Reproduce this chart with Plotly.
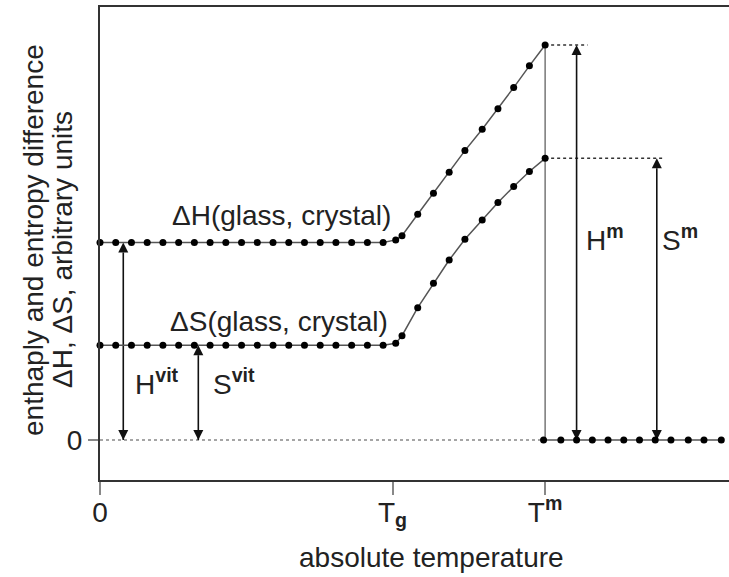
import plotly.graph_objects as go

# ---- data (arbitrary units) ----
T_G = 18.6
T_M = 28.3
H_LEVEL = 10.0
S_LEVEL = 4.8
H_TOP = 20.0
S_TOP = 14.26

glass_x = [0, 1, 2, 3, 4, 5, 6, 7, 8, 9, 10, 11, 12, 13, 14, 15, 16, 17, 18]
rise_x = [18.8, 19.2, 20.2, 21.2, 22.2, 23.2, 24.3, 25.3, 26.3, 27.3, 28.3]
dH_rise = [10.13, 10.34, 11.43, 12.49, 13.55, 14.65, 15.73, 16.77, 17.84, 18.94, 20.0]
dS_rise = [4.9, 5.28, 6.7, 7.93, 9.11, 10.16, 11.14, 12.02, 12.83, 13.59, 14.26]
liquid_x = [28.2, 29.3, 30.3, 31.3, 32.3, 33.3, 34.3, 35.3, 36.3, 37.4, 38.4, 39.5]
liquid_y = [0] * len(liquid_x)

dH_x = glass_x + rise_x
dH_y = [H_LEVEL] * len(glass_x) + dH_rise
dS_x = glass_x + rise_x
dS_y = [S_LEVEL] * len(glass_x) + dS_rise

x_tickvals = [0, T_G, T_M]
x_ticktext = ["0", "T<sub><b>g</b></sub>", "T<sup><b>m</b></sup>"]

# double-headed arrows: x position, top value, bottom value
arrow_x = [1.48, 6.25, 30.3, 35.4]
arrow_top = [H_LEVEL, S_LEVEL, H_TOP, S_TOP]
arrow_bottom = [0, 0, 0, 0]

# dotted guide ends
guide_end_x = [31.0, 35.8]
guide_y = [H_TOP, S_TOP]

FONT = "Liberation Sans, Arial, sans-serif"
TXT = "#222222"
FS = 28

fig = go.Figure()

# zero reference (dotted) for glass region
fig.add_trace(go.Scatter(x=[0, T_M], y=[0, 0], mode="lines",
                         line=dict(color="#888888", width=1.5, dash="dot"),
                         showlegend=False, hoverinfo="skip"))
# dotted extensions at the melting values
gx, gy = [], []
for xe, yv in zip(guide_end_x, guide_y):
    gx += [T_M, xe, None]
    gy += [yv, yv, None]
fig.add_trace(go.Scatter(x=gx, y=gy, mode="lines",
                         line=dict(color="#333333", width=1.5, dash="dot"),
                         showlegend=False, hoverinfo="skip"))
# vertical drop at Tm
fig.add_trace(go.Scatter(x=[T_M, T_M], y=[0, H_TOP], mode="lines",
                         line=dict(color="#777777", width=1.5),
                         showlegend=False, hoverinfo="skip"))

# arrows (one trace, separated by gaps)
axs, ays, syms = [], [], []
for ax_, top, bot in zip(arrow_x, arrow_top, arrow_bottom):
    axs += [ax_, ax_, None]
    ays += [bot, top, None]
    syms += ["arrow-down", "arrow-up", "circle"]
fig.add_trace(go.Scatter(x=axs, y=ays, mode="lines+markers",
                         line=dict(color="#111111", width=1.6),
                         marker=dict(symbol=syms, size=10, color="#111111"),
                         cliponaxis=False, showlegend=False, hoverinfo="skip"))

marker = dict(color="black", size=7)
line = dict(color="#555555", width=1.5)
fig.add_trace(go.Scatter(x=dH_x, y=dH_y, mode="lines+markers", name="ΔH",
                         marker=marker, line=line, cliponaxis=False, showlegend=False))
fig.add_trace(go.Scatter(x=dS_x, y=dS_y, mode="lines+markers", name="ΔS",
                         marker=marker, line=line, cliponaxis=False, showlegend=False))
fig.add_trace(go.Scatter(x=liquid_x, y=liquid_y, mode="lines+markers", name="liquid",
                         marker=marker, line=line, cliponaxis=False, showlegend=False))

annotations = []
labels = [
    (11.57, 11.39, "ΔH(glass, crystal)"),
    (11.38, 5.99, "ΔS(glass, crystal)"),
    (3.62, 2.94, "H<sup><b>vit</b></sup>"),
    (8.52, 2.94, "S<sup><b>vit</b></sup>"),
    (32.1, 10.23, "H<sup><b>m</b></sup>"),
    (36.9, 10.23, "S<sup><b>m</b></sup>"),
]
for lx, ly, t in labels:
    annotations.append(dict(x=lx, y=ly, xref="x", yref="y", text=t, showarrow=False,
                            font=dict(family=FONT, size=FS, color=TXT)))

# axis titles placed as paper-referenced text
PW, PH = 629.0, 473.0
annotations.append(dict(x=(33 - 100) / PW, y=(480 - 240) / PH, xref="paper", yref="paper",
                        text="enthaply and entropy difference", textangle=-90,
                        showarrow=False, xanchor="center", yanchor="middle",
                        font=dict(family=FONT, size=FS, color=TXT)))
annotations.append(dict(x=(62 - 100) / PW, y=(480 - 250) / PH, xref="paper", yref="paper",
                        text="ΔH, ΔS, arbitrary units", textangle=-90,
                        showarrow=False, xanchor="center", yanchor="middle",
                        font=dict(family=FONT, size=FS, color=TXT)))
annotations.append(dict(x=(431.5 - 100) / PW, y=(480 - 557) / PH, xref="paper", yref="paper",
                        text="absolute temperature", showarrow=False,
                        xanchor="center", yanchor="middle",
                        font=dict(family=FONT, size=FS, color=TXT)))

fig.update_layout(
    width=729, height=577,
    margin=dict(l=100, r=0, t=7, b=97),
    paper_bgcolor="white", plot_bgcolor="white",
    font=dict(family=FONT, size=FS, color=TXT),
    annotations=annotations,
    showlegend=False,
)
fig.update_xaxes(range=[0, 39.99], showgrid=False, zeroline=False,
                 showline=True, linecolor="#333333", linewidth=2, mirror=True,
                 tickmode="array", tickvals=x_tickvals, ticktext=x_ticktext,
                 ticks="outside", ticklen=13, tickwidth=1.5, tickcolor="#888888",
                 ticklabelstandoff=-7,
                 tickfont=dict(family=FONT, size=FS, color=TXT))
fig.update_yaxes(range=[-2.025, 21.92], showgrid=False, zeroline=False,
                 showline=True, linecolor="#333333", linewidth=2,
                 tickmode="array", tickvals=[0], ticktext=["0"],
                 ticks="outside", ticklen=10, tickwidth=1.5, tickcolor="#888888",
                 tickfont=dict(family=FONT, size=FS, color=TXT))

fig.write_html("out.html")
